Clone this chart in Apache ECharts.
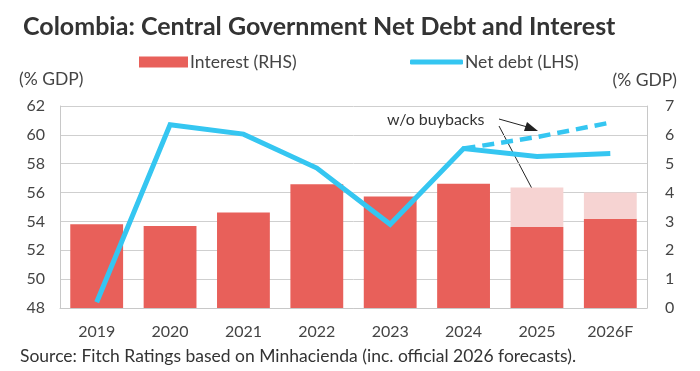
<!DOCTYPE html>
<html>
<head>
<meta charset="utf-8">
<script src="https://cdn.jsdelivr.net/npm/echarts@6/dist/echarts.min.js"></script>
<style>
  html, body { margin: 0; padding: 0; background: #fff; }
  #chart { width: 700px; height: 371px; }
</style>
</head>
<body>
<div id="chart"></div>
<script>
const years = ['2019', '2020', '2021', '2022', '2023', '2024', '2025', '2026F']
// interest, % GDP (right axis)
const interest = [2.9, 2.84, 3.31, 4.29, 3.86, 4.31, 2.81, 3.09]
// extra interest without buybacks (pale part on top)
const interestNoBuyback = [null, null, null, null, null, null, 1.37, 0.91]
// net debt, % GDP (left axis)
const netDebt = [48.4, 60.7, 60.05, 57.7, 53.8, 59.05, 58.5, 58.7]
const netDebtNoBuyback = [null, null, null, null, null, 59.05, 59.85, 60.85]

const leftTicks = [48, 62, 2]
const rightTicks = [0, 7, 1]

const RED = '#e8605a'
const PALE = '#f6d3d2'
const BLUE = '#35c6f1'
const FONT = 'Lato'

const chart = echarts.init(document.getElementById('chart'))

const option = {
  animation: false,
  textStyle: { fontFamily: FONT },
  title: {
    text: 'Colombia: Central Government Net Debt and Interest',
    left: 18,
    top: 9,
    textStyle: { fontFamily: FONT, fontSize: 25, fontWeight: 'bold', color: '#333' },
  },
  legend: [
    {
      data: [{ name: 'Interest (RHS)', icon: 'rect' }],
      left: 134,
      top: 48,
      itemWidth: 49,
      itemHeight: 11,
      itemGap: 4,
      textStyle: { fontFamily: FONT, fontSize: 17.5, color: '#444', padding: [0, 0, 0, -3] },
    },
    {
      data: [{ name: 'Net debt (LHS)', icon: 'roundRect' }],
      left: 405,
      top: 48,
      itemWidth: 53,
      itemHeight: 5,
      textStyle: { fontFamily: FONT, fontSize: 17.5, color: '#444', padding: [0, 0, 0, -3] },
    },
  ],
  grid: { left: 60, right: 53, top: 106, bottom: 63 },
  xAxis: {
    type: 'category',
    data: years,
    axisLine: { show: true, lineStyle: { color: '#c8c8c8', width: 1 } },
    axisTick: { show: false },
    axisLabel: { fontSize: 16, color: '#444', margin: 16 },
  },
  yAxis: [
    {
      type: 'value',
      min: leftTicks[0],
      max: leftTicks[1],
      interval: leftTicks[2],
      name: '(% GDP)',
      nameLocation: 'end',
      nameGap: 18,
      nameTextStyle: { fontSize: 17.5, color: '#444', align: 'left', padding: [0, 0, 0, -41] },
      axisLine: { show: true, lineStyle: { color: '#c8c8c8' } },
      axisTick: { show: false },
      axisLabel: { fontSize: 16, color: '#444', margin: 15 },
      splitLine: { lineStyle: { color: '#cfcfcf' } },
    },
    {
      type: 'value',
      min: rightTicks[0],
      max: rightTicks[1],
      interval: rightTicks[2],
      name: '(% GDP)',
      nameLocation: 'end',
      nameGap: 17,
      nameTextStyle: { fontSize: 17.5, color: '#444', align: 'right', padding: [0, -30, 0, 0] },
      axisLine: { show: true, lineStyle: { color: '#c8c8c8' } },
      axisTick: { show: false },
      axisLabel: { fontSize: 16, color: '#444', margin: 18 },
      splitLine: { show: false },
    },
  ],
  series: [
    {
      name: 'Interest (RHS)',
      type: 'bar',
      yAxisIndex: 1,
      stack: 'int',
      data: interest,
      barWidth: '72%',
      itemStyle: { color: RED },
    },
    {
      name: 'Interest w/o buybacks',
      type: 'bar',
      yAxisIndex: 1,
      stack: 'int',
      data: interestNoBuyback,
      barWidth: '72%',
      itemStyle: { color: PALE },
    },
    {
      name: 'Net debt w/o buybacks',
      type: 'line',
      yAxisIndex: 0,
      data: netDebtNoBuyback,
      symbol: 'none',
      lineStyle: { color: BLUE, width: 4.5, type: [12, 7] },
      z: 3,
    },
    {
      name: 'Net debt (LHS)',
      type: 'line',
      yAxisIndex: 0,
      data: netDebt,
      symbol: 'none',
      itemStyle: { color: BLUE },
      lineStyle: { color: BLUE, width: 5, join: 'miter' },
      z: 4,
    },
  ],
  graphic: [
    {
      type: 'text',
      left: 387,
      top: 112,
      style: { text: 'w/o buybacks', fontFamily: FONT, fontSize: 16, fill: '#333' },
    },
    {
      type: 'line',
      shape: { x1: 499, y1: 119, x2: 531, y2: 128 },
      style: { stroke: '#222', lineWidth: 1 },
    },
    {
      type: 'polygon',
      shape: { points: [[538, 131], [524, 131], [527, 122]] },
      style: { fill: '#222' },
    },
    {
      type: 'line',
      shape: { x1: 499, y1: 126, x2: 538, y2: 200 },
      style: { stroke: '#222', lineWidth: 1 },
    },
    {
      type: 'polygon',
      shape: { points: [[542, 208], [532, 197], [542, 192]] },
      style: { fill: '#222' },
    },
    {
      type: 'text',
      left: 20,
      top: 347,
      style: {
        text: 'Source: Fitch Ratings based on Minhacienda (inc. official 2026 forecasts).',
        fontFamily: FONT,
        fontSize: 17.5,
        fill: '#333',
      },
    },
  ],
}

chart.setOption(option)
</script>
</body>
</html>
